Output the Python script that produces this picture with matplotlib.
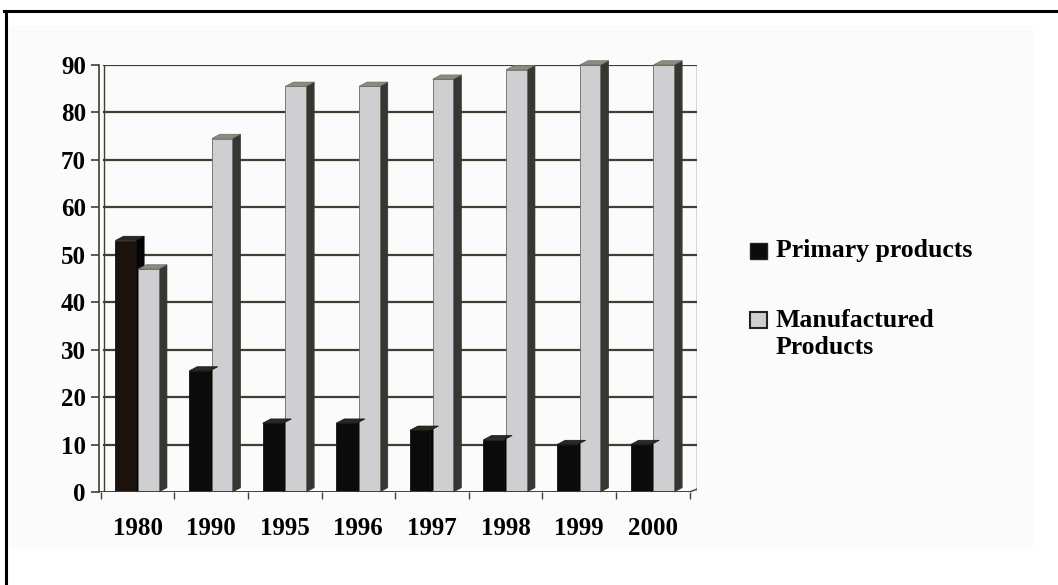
import matplotlib.pyplot as plt
from matplotlib.patches import Polygon, Rectangle
from matplotlib.lines import Line2D

years = ["1980", "1990", "1995", "1996", "1997", "1998", "1999", "2000"]
primary = [53, 25.5, 14.5, 14.5, 13, 11, 10, 10]
manufactured = [47, 74.5, 85.5, 85.5, 87, 89, 90, 90]
series_names = ["Primary products", "Manufactured\nProducts"]

plt.rcParams["font.family"] = ["Liberation Serif", "DejaVu Serif"]
plt.rcParams["font.weight"] = "bold"

GRID = "#3f3f34"
BAR_W = 0.28
DEPTH_X = 0.11
DEPTH_Y = 0.9

fig = plt.figure(figsize=(10.58, 5.85), dpi=100)

# page frame and faint panel behind the chart
fig.add_artist(Rectangle((8 / 1058, 37 / 585), 1025 / 1058, 523 / 585,
                         transform=fig.transFigure, facecolor="#fbfbfb",
                         edgecolor="none", zorder=0))
fig.add_artist(Line2D([4 / 1058, 1.0], [1 - 11 / 585] * 2, transform=fig.transFigure,
                      color="black", linewidth=2.2))
fig.add_artist(Line2D([5.5 / 1058] * 2, [0, 1 - 11 / 585], transform=fig.transFigure,
                      color="black", linewidth=2.2))

x_left, x_right = -0.53, 7.6
ax = fig.add_axes([98.5 / 1058, 93 / 585, (x_right - x_left) * 73.6 / 1058, 427 / 585])
ax.set_facecolor("none")
ax.set_xlim(x_left, x_right)
ax.set_ylim(0, 90)

for s in ["top", "right", "bottom"]:
    ax.spines[s].set_visible(False)
ax.spines["left"].set_color(GRID)
ax.spines["left"].set_linewidth(1.2)

# back wall: gridlines and wall edges
wall_x = -0.45
for v in range(10, 100, 10):
    ax.plot([wall_x, x_right], [v, v], color=GRID, linewidth=1.6, zorder=1)
ax.plot([wall_x, wall_x], [0, 90], color=GRID, linewidth=1.0, zorder=1)
ax.plot([x_right, x_right], [0, 90], color=GRID, linewidth=1.0, zorder=1)
ax.plot([x_left, 7.5], [0, 0], color=GRID, linewidth=1.4, zorder=5)
ax.plot([7.5, x_right], [0, 0.6], color=GRID, linewidth=1.0, zorder=5)


def bar3d(x0, value, face, side, top, edge):
    x1 = x0 + BAR_W
    ax.bar(x0, value, width=BAR_W, align="edge", color=face, edgecolor=edge,
           linewidth=0.6, zorder=3)
    ax.add_patch(Polygon([(x1, 0), (x1 + DEPTH_X, DEPTH_Y), (x1 + DEPTH_X, value + DEPTH_Y),
                          (x1, value)], closed=True, facecolor=side, edgecolor=side,
                         linewidth=0.5, zorder=2.5, clip_on=False))
    ax.add_patch(Polygon([(x0, value), (x1, value), (x1 + DEPTH_X, value + DEPTH_Y),
                          (x0 + DEPTH_X, value + DEPTH_Y)], closed=True, facecolor=top,
                         edgecolor=edge, linewidth=0.5, zorder=3.5, clip_on=False))


for i, (p, m) in enumerate(zip(primary, manufactured)):
    dark = "#1c130d" if i == 0 else "#0b0b0b"
    bar3d(i - 0.30, p, dark, "#050505", "#2a2a22", "#111111")
    bar3d(i + 0.01, m, "#cfcfd1", "#363632", "#8c8c7c", "#6a6a64")

ax.set_yticks(range(0, 100, 10))
ax.tick_params(axis="y", length=6, width=1.2, color=GRID, pad=3, labelsize=18)
ax.set_xticks([i + 0.5 for i in range(-1, 8)], minor=True)
ax.set_xticks(range(len(years)))
ax.set_xticklabels(years)
ax.tick_params(axis="x", which="major", length=0, pad=18, labelsize=18)
ax.tick_params(axis="x", which="minor", length=5, width=1.0, color=GRID)

# legend drawn beside the plot
fig.add_artist(Rectangle((750 / 1058, 1 - 259 / 585), 17 / 1058, 16 / 585,
                         transform=fig.transFigure, facecolor="#0b0b0b",
                         edgecolor="#222222", linewidth=1.0))
fig.add_artist(Rectangle((750 / 1058, 1 - 328 / 585), 17 / 1058, 16 / 585,
                         transform=fig.transFigure, facecolor="#cfcfd1",
                         edgecolor="#222222", linewidth=1.5))
fig.text(776 / 1058, 1 - 251 / 585, series_names[0], fontsize=18.5, va="center", ha="left")
fig.text(776 / 1058, 1 - 309 / 585, series_names[1], fontsize=18.5, va="top", ha="left",
         linespacing=1.2)

fig.savefig("out.png", dpi=100)
